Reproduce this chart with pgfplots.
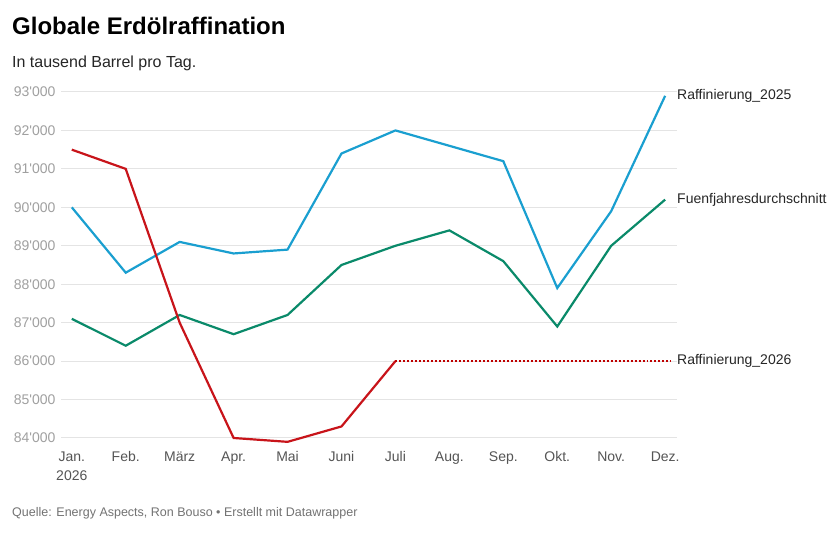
\documentclass[border=0pt]{standalone}
\usepackage{pgfplots}
\pgfplotsset{compat=1.18}
\usepackage{fontspec}
\setmainfont{Liberation Sans}
\definecolor{cblue}{HTML}{1A9FD0}
\definecolor{cgreen}{HTML}{0A8A6A}
\definecolor{cred}{HTML}{C8141A}
\definecolor{ygray}{HTML}{A0A0A0}
\definecolor{xgray}{HTML}{555555}
\definecolor{gridgray}{HTML}{E4E4E4}
\begin{document}
\begin{tikzpicture}[x=1bp,y=1bp]
\path[use as bounding box, fill=white] (0,0) rectangle (840,533);
\node[anchor=base west, inner sep=0, font=\fontsize{24bp}{28bp}\selectfont\bfseries] at (12,498) {Globale Erdölraffination};
\node[anchor=base west, inner sep=0, font=\fontsize{16bp}{18bp}\selectfont, text=black!85] at (12,465) {In tausend Barrel pro Tag.};
\node[anchor=base west, inner sep=0, font=\fontsize{12.5bp}{15bp}\selectfont, text=black!55] at (12,16) {Quelle: Energy Aspects, Ron Bouso • Erstellt mit Datawrapper};
\begin{axis}[
  at={(61bp,95bp)}, anchor=south west,
  scale only axis, width=616bp, height=346bp,
  xmin=-0.2, xmax=11.22, ymin=84000, ymax=93000,
  clip=false, scaled y ticks=false,
  axis line style={draw=none},
  tick style={draw=none},
  ymajorgrids, grid style={gridgray, line width=1pt},
  ytick={84000,85000,86000,87000,88000,89000,90000,91000,92000,93000},
  yticklabels={84\textquotesingle000,85\textquotesingle000,86\textquotesingle000,87\textquotesingle000,88\textquotesingle000,89\textquotesingle000,90\textquotesingle000,91\textquotesingle000,92\textquotesingle000,93\textquotesingle000},
  yticklabel style={font=\fontsize{14bp}{16bp}\selectfont, text=ygray, anchor=east, xshift=-2bp},
  xtick={0,1,2,3,4,5,6,7,8,9,10,11},
  xticklabels={{Jan.\\2026},Feb.,März,Apr.,Mai,Juni,Juli,Aug.,Sep.,Okt.,Nov.,Dez.},
  xticklabel style={font=\fontsize{14bp}{19bp}\selectfont, text=xgray, align=center, anchor=north, yshift=-10bp},
]
\addplot[cblue, line width=2.2pt] coordinates {
(0,90000)(1,88300)(2,89100)(3,88800)(4,88900)(5,91400)(6,92000)(7,91600)(8,91200)(9,87900)(10,89900)(11,92900)};
\addplot[cgreen, line width=2.2pt] coordinates {
(0,87100)(1,86400)(2,87200)(3,86700)(4,87200)(5,88500)(6,89000)(7,89400)(8,88600)(9,86900)(10,89000)(11,90200)};
\addplot[cred, line width=2.2pt] coordinates {
(0,91500)(1,91000)(2,87000)(3,84000)(4,83900)(5,84300)(6,86000)};
\addplot[draw=red!75!black, line width=1.3pt, dash pattern=on 2pt off 2pt] coordinates {(6,86000)(11.1,86000)};
\node[anchor=west, inner sep=0, font=\fontsize{14bp}{16bp}\selectfont, text=black!85] at (axis cs:11.22,92900) {Raffinierung\_2025};
\node[anchor=west, inner sep=0, font=\fontsize{14bp}{16bp}\selectfont, text=black!85] at (axis cs:11.22,90200) {Fuenfjahresdurchschnitt};
\node[anchor=west, inner sep=0, font=\fontsize{14bp}{16bp}\selectfont, text=black!85] at (axis cs:11.22,86000) {Raffinierung\_2026};
\end{axis}
\end{tikzpicture}
\end{document}
